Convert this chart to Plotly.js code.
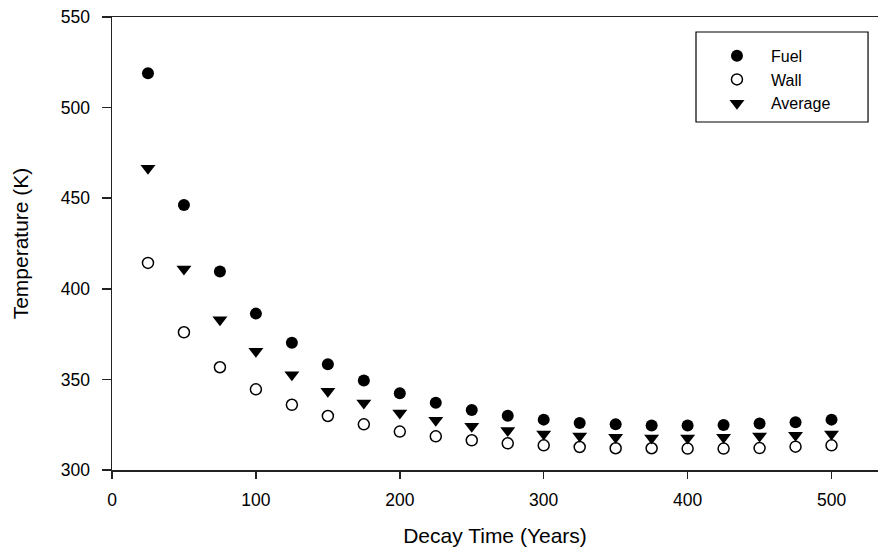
<!DOCTYPE html>
<html>
<head>
<meta charset="utf-8">
<script src="https://cdn.plot.ly/plotly-3.0.1.min.js"></script>
<style>html,body{margin:0;padding:0;background:#fff;}#chart{width:878px;height:548px;}</style>
</head>
<body>
<div id="chart"></div>
<script>
var decayTime = [25, 50, 75, 100, 125, 150, 175, 200, 225, 250, 275, 300, 325, 350, 375, 400, 425, 450, 475, 500];
var fuelTemp = [519.0, 446.2, 409.6, 386.3, 370.2, 358.4, 349.4, 342.4, 337.1, 333.1, 330.0, 327.8, 325.9, 325.2, 324.5, 324.5, 324.8, 325.6, 326.4, 327.8];
var wallTemp = [414.3, 376.0, 356.7, 344.5, 336.0, 329.8, 325.2, 321.2, 318.6, 316.4, 314.7, 313.6, 312.7, 312.0, 312.0, 311.8, 311.8, 312.1, 312.9, 313.6];
var averageTemp = [466.5, 410.9, 382.9, 365.5, 352.6, 343.5, 337.0, 331.5, 327.5, 324.2, 321.8, 319.9, 318.7, 318.1, 317.7, 317.7, 318.1, 318.7, 319.2, 319.9];
var seriesNames = ['Fuel', 'Wall', 'Average'];
var xTickVals = [0, 100, 200, 300, 400, 500];
var yTickVals = [300, 350, 400, 450, 500, 550];
var xTitle = 'Decay Time (Years)';
var yTitle = 'Temperature (K)';

var FONT = 'Liberation Sans, Arial, Helvetica, sans-serif';
var AX = '#222';

var traces = [
  {x: decayTime, y: fuelTemp, name: seriesNames[0], type: 'scatter', mode: 'markers',
   marker: {symbol: 'circle', size: 12, color: '#000', line: {width: 0}}},
  {x: decayTime, y: wallTemp, name: seriesNames[1], type: 'scatter', mode: 'markers',
   marker: {symbol: 'circle', size: 11, color: '#fff', line: {width: 1.5, color: '#000'}}},
  {x: decayTime, y: averageTemp, name: seriesNames[2], type: 'scatter', mode: 'markers',
   marker: {symbol: 'triangle-down', size: 13, color: '#000', line: {width: 0}}}
];

var layout = {
  width: 878, height: 548,
  margin: {l: 112, r: 0, t: 17, b: 78, pad: 0},
  paper_bgcolor: '#fff', plot_bgcolor: '#fff',
  font: {family: FONT, color: '#000', size: 17},
  showlegend: true,
  legend: {x: 0.7715, xanchor: 'left', y: 0.952, yanchor: 'top',
           bgcolor: 'rgba(0,0,0,0)', borderwidth: 0, itemwidth: 58,
           font: {family: FONT, size: 16, color: '#000'}},
  shapes: [{type: 'rect', xref: 'paper', yref: 'paper', x0: 0.7624, x1: 0.987, y0: 0.7682, y1: 0.9669,
            line: {color: '#000', width: 1.2}, fillcolor: 'rgba(0,0,0,0)'}],
  xaxis: {range: [0, 532.3], tickvals: xTickVals, ticks: 'outside', ticklen: 7, tickwidth: 1.5, tickcolor: AX,
          showline: true, linecolor: AX, linewidth: 1.5, mirror: true, showgrid: false, zeroline: false,
          ticklabelstandoff: 6, tickfont: {size: 17.5},
          title: {text: xTitle, font: {size: 21}, standoff: 20}},
  yaxis: {range: [300, 550], tickvals: yTickVals, ticks: 'outside', ticklen: 9, tickwidth: 1.5, tickcolor: AX,
          showline: true, linecolor: AX, linewidth: 1.5, mirror: false, showgrid: false, zeroline: false,
          ticklabelstandoff: 8, tickfont: {size: 17.5},
          title: {text: yTitle, font: {size: 21}, standoff: 26}}
};

Plotly.newPlot('chart', traces, layout, {displayModeBar: false, staticPlot: true});
</script>
</body>
</html>
